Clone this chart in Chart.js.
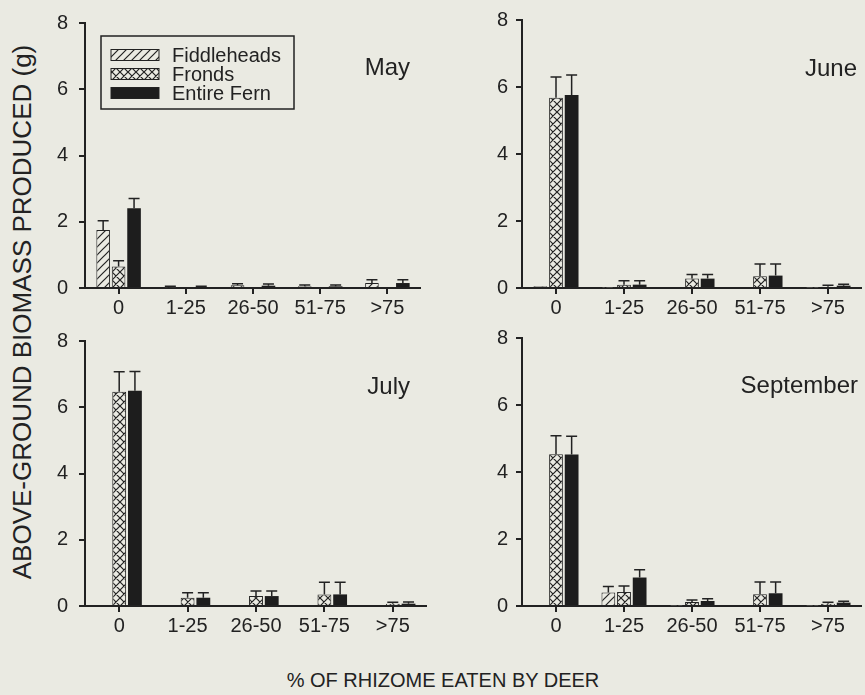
<!DOCTYPE html>
<html>
<head>
<meta charset="utf-8">
<script src="https://cdn.jsdelivr.net/npm/chart.js@4.4.1/dist/chart.umd.min.js"></script>
<style>
body { margin: 0; background: #eaeae2; width: 865px; height: 695px; position: relative; overflow: hidden;
       font-family: "Liberation Sans", Arial, sans-serif; color: #222; }
canvas { position: absolute; }
#ytitle { position: absolute; left: 22px; top: 312px; transform: translate(-50%, -50%) rotate(-90deg);
          font-size: 26px; white-space: nowrap; }
#xtitle { position: absolute; left: 443px; top: 680px; transform: translate(-50%, -50%);
          font-size: 20px; white-space: nowrap; }
</style>
</head>
<body>
<canvas id="may" width="381" height="320" style="left:40px;top:0px"></canvas>
<canvas id="june" width="385" height="320" style="left:477px;top:0px"></canvas>
<canvas id="july" width="387" height="320" style="left:40px;top:318px"></canvas>
<canvas id="sept" width="385" height="320" style="left:477px;top:318px"></canvas>
<div id="ytitle">ABOVE-GROUND BIOMASS PRODUCED (g)</div>
<div id="xtitle">% OF RHIZOME EATEN BY DEER</div>
<script>
const categories = ['0', '1-25', '26-50', '51-75', '>75'];
const seriesNames = ['Fiddleheads', 'Fronds', 'Entire Fern'];
const yTicks = [0, 2, 4, 6, 8];

// May
const mayFiddle = [1.75, 0.02, 0.08, 0.05, 0.15];
const mayFiddleErr = [0.28, 0.03, 0.05, 0.04, 0.1];
const mayFronds = [0.65, 0, 0, 0, 0];
const mayFrondsErr = [0.17, 0, 0, 0, 0];
const mayEntire = [2.41, 0.02, 0.07, 0.05, 0.15];
const mayEntireErr = [0.29, 0.03, 0.05, 0.04, 0.1];

// June
const juneFiddle = [0.05, 0.01, 0, 0, 0.01];
const juneFiddleErr = [0, 0, 0, 0, 0];
const juneFronds = [5.68, 0.1, 0.28, 0.35, 0.04];
const juneFrondsErr = [0.62, 0.12, 0.12, 0.37, 0.04];
const juneEntire = [5.76, 0.1, 0.28, 0.37, 0.07];
const juneEntireErr = [0.6, 0.12, 0.12, 0.35, 0.04];

// July
const julyFiddle = [0, 0, 0, 0, 0];
const julyFiddleErr = [0, 0, 0, 0, 0];
const julyFronds = [6.47, 0.25, 0.3, 0.35, 0.07];
const julyFrondsErr = [0.6, 0.15, 0.15, 0.37, 0.04];
const julyEntire = [6.5, 0.25, 0.3, 0.35, 0.07];
const julyEntireErr = [0.58, 0.15, 0.15, 0.37, 0.05];

// September
const septFiddle = [0, 0.4, 0.01, 0, 0.01];
const septFiddleErr = [0, 0.18, 0, 0, 0];
const septFronds = [4.53, 0.42, 0.12, 0.35, 0.07];
const septFrondsErr = [0.55, 0.18, 0.06, 0.37, 0.04];
const septEntire = [4.52, 0.85, 0.15, 0.38, 0.1];
const septEntireErr = [0.55, 0.23, 0.07, 0.34, 0.04];

const bg = '#eaeae2';
const ink = '#222';
const font = '"Liberation Sans", Arial, sans-serif';

function makePattern(cross) {
    const s = 8;
    const tile = document.createElement('canvas');
    tile.width = s;
    tile.height = s;
    const c = tile.getContext('2d');
    c.fillStyle = bg;
    c.fillRect(0, 0, s, s);
    c.strokeStyle = ink;
    c.lineWidth = 1.2;
    c.beginPath();
    c.moveTo(0, s); c.lineTo(s, 0);
    c.moveTo(-1, 1); c.lineTo(1, -1);
    c.moveTo(s - 1, s + 1); c.lineTo(s + 1, s - 1);
    if (cross) {
        c.moveTo(0, 0); c.lineTo(s, s);
        c.moveTo(-1, s - 1); c.lineTo(1, s + 1);
        c.moveTo(s - 1, -1); c.lineTo(s + 1, 1);
    }
    c.stroke();
    return c.createPattern(tile, 'repeat');
}
const hatch = makePattern(false);
const crossHatch = makePattern(true);

// error bars: upward line with a cap
const errorBars = {
    id: 'errorBars',
    afterDatasetsDraw(chart) {
        const ctx = chart.ctx;
        const y = chart.scales.y;
        ctx.save();
        ctx.strokeStyle = ink;
        ctx.lineWidth = 1.5;
        chart.data.datasets.forEach((ds, di) => {
            const meta = chart.getDatasetMeta(di);
            meta.data.forEach((bar, i) => {
                const e = ds.errors[i];
                if (!e) return;
                const top = y.getPixelForValue(ds.data[i] + e);
                ctx.beginPath();
                ctx.moveTo(bar.x, bar.y);
                ctx.lineTo(bar.x, top);
                ctx.moveTo(bar.x - 5.5, top);
                ctx.lineTo(bar.x + 5.5, top);
                ctx.stroke();
            });
        });
        ctx.restore();
    }
};

// month label + optional legend inside the plot
const panelText = {
    id: 'panelText',
    afterDraw(chart, args, opts) {
        const ctx = chart.ctx;
        const a = chart.chartArea;
        ctx.save();
        ctx.fillStyle = ink;
        ctx.font = '24px ' + font;
        ctx.textAlign = 'right';
        ctx.textBaseline = 'middle';
        ctx.fillText(opts.text, a.right - opts.dx, a.top + opts.dy);
        if (opts.legend) {
            const bx = a.left + 16, by = a.top + 13;
            ctx.fillStyle = bg;
            ctx.fillRect(bx, by, 193, 73);
            ctx.strokeStyle = ink;
            ctx.lineWidth = 1.5;
            ctx.strokeRect(bx, by, 193, 73);
            ctx.font = '20px ' + font;
            ctx.textAlign = 'left';
            chart.data.datasets.forEach((ds, i) => {
                const cy = by + 19 + i * 19;
                ctx.fillStyle = ds.backgroundColor;
                ctx.fillRect(bx + 10, cy - 5.5, 48, 11);
                ctx.lineWidth = 1;
                ctx.strokeRect(bx + 10, cy - 5.5, 48, 11);
                ctx.fillStyle = ink;
                ctx.fillText(ds.label, bx + 71, cy + 1);
            });
        }
        ctx.restore();
    }
};

function makePanel(id, fiddle, fiddleErr, fronds, frondsErr, entire, entireErr, label, dx, dy, legend, yPad) {
    const ctx = document.getElementById(id).getContext('2d');
    return new Chart(ctx, {
        type: 'bar',
        data: {
            labels: categories,
            datasets: [
                { label: seriesNames[0], data: fiddle, errors: fiddleErr, backgroundColor: hatch,
                  borderColor: ink, borderWidth: 1 },
                { label: seriesNames[1], data: fronds, errors: frondsErr, backgroundColor: crossHatch,
                  borderColor: ink, borderWidth: 1 },
                { label: seriesNames[2], data: entire, errors: entireErr, backgroundColor: '#1d1d1d',
                  borderColor: '#1d1d1d', borderWidth: 0 }
            ]
        },
        options: {
            responsive: false,
            animation: false,
            events: [],
            layout: { padding: { top: 16, right: 0, bottom: 0, left: 0 } },
            datasets: { bar: { categoryPercentage: 0.69, barPercentage: 0.88 } },
            plugins: {
                legend: { display: false },
                tooltip: { enabled: false },
                panelText: { text: label, dx: dx, dy: dy, legend: legend }
            },
            scales: {
                x: {
                    offset: true,
                    afterFit: s => { s.height = 32; },
                    grid: { offset: false, drawOnChartArea: false, drawTicks: true, tickLength: 6,
                            color: ink, lineWidth: 2 },
                    border: { display: true, color: ink, width: 2 },
                    ticks: { color: ink, padding: 2, font: { family: font, size: 20 } }
                },
                y: {
                    min: 0,
                    max: 8,
                    afterFit: s => { s.width = 45; },
                    afterBuildTicks: s => { s.ticks = yTicks.map(v => ({ value: v })); },
                    grid: { drawOnChartArea: false, drawTicks: true, tickLength: 6, color: ink, lineWidth: 2 },
                    border: { display: true, color: ink, width: 2 },
                    ticks: { color: ink, padding: yPad, font: { family: font, size: 20 } }
                }
            }
        },
        plugins: [errorBars, panelText]
    });
}

makePanel('may', mayFiddle, mayFiddleErr, mayFronds, mayFrondsErr, mayEntire, mayEntireErr, 'May', 11, 45, true, 11);
makePanel('june', juneFiddle, juneFiddleErr, juneFronds, juneFrondsErr, juneEntire, juneEntireErr, 'June', 5, 49, false, 8);
makePanel('july', julyFiddle, julyFiddleErr, julyFronds, julyFrondsErr, julyEntire, julyEntireErr, 'July', 17, 46, false, 11);
makePanel('sept', septFiddle, septFiddleErr, septFronds, septFrondsErr, septEntire, septEntireErr, 'September', 4, 48, false, 8);
</script>
</body>
</html>
